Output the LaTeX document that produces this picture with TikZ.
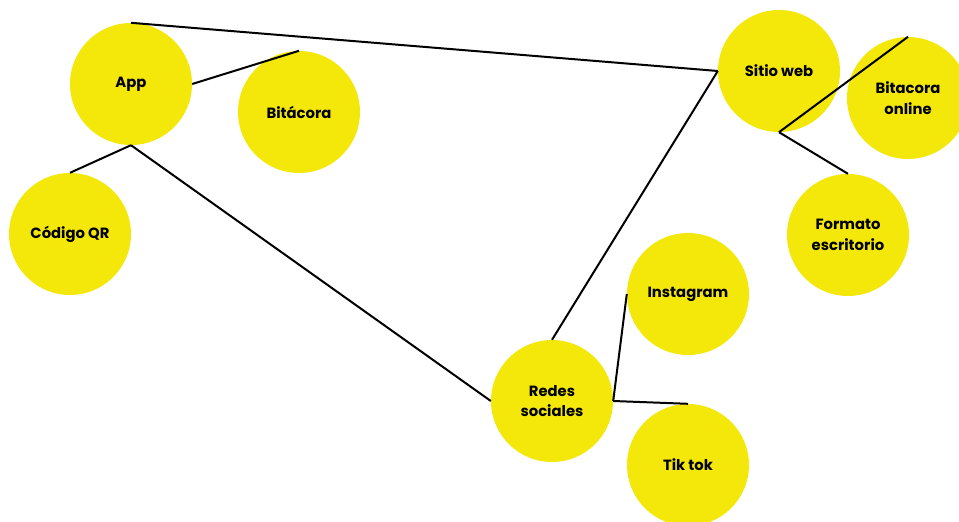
\documentclass[tikz,border=0pt]{standalone}
\usepackage{fontspec}
\setmainfont{Poppins}[UprightFont=* Bold]
\definecolor{dotyellow}{RGB}{243,232,10}
\begin{document}
\begin{tikzpicture}[x=1pt,y=-1pt,
  bubble/.style={circle,fill=dotyellow,draw=none,minimum size=122pt,inner sep=0pt,
    align=center,font=\fontsize{14.8}{20.5}\selectfont},
  link/.style={draw=black,line width=2pt}]
\useasboundingbox (0,0) rectangle (959,522);
\node[bubble] (app) at (131,84) {App};
\node[bubble] (bit) at (299,112) {Bitácora};
\node[bubble] (qr) at (70,234) {Código QR};
\node[bubble] (web) at (779,71) {Sitio web};
\node[bubble] (bon) at (908,98) {Bitacora\\online};
\node[bubble] (fmt) at (848,235) {Formato\\escritorio};
\node[bubble] (ins) at (688,294) {Instagram};
\node[bubble] (red) at (552,401) {Redes\\sociales};
\node[bubble] (tik) at (688,465) {Tik tok};
\draw[link] (app.north) -- (web.west);
\draw[link] (app.east) -- (bit.north);
\draw[link] (app.south) -- (qr.north);
\draw[link] (app.south) -- (red.west);
\draw[link] (red.north) -- (web.west);
\draw[link] (web.south) -- (bon.north);
\draw[link] (web.south) -- (fmt.north);
\draw[link] (red.east) -- (ins.west);
\draw[link] (red.east) -- (tik.north);
\end{tikzpicture}
\end{document}
